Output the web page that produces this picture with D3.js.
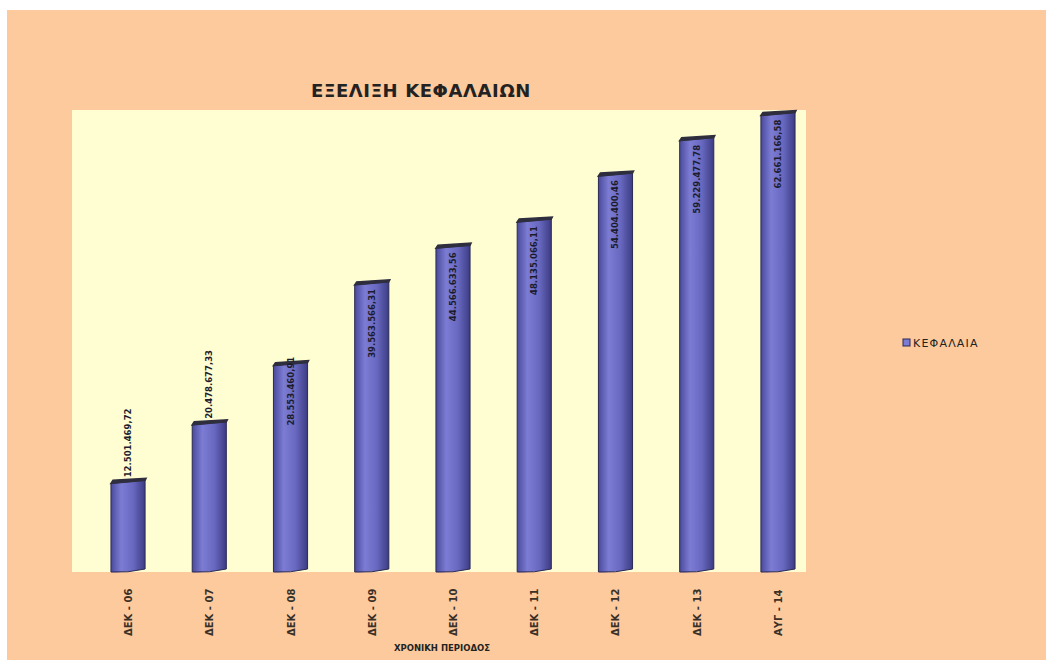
<!DOCTYPE html>
<html>
<head>
<meta charset="utf-8">
<script src="https://cdn.jsdelivr.net/npm/d3@7"></script>
<style>
  body { margin: 0; background: #fff; }
  svg { display: block; font-family: "DejaVu Sans", sans-serif; }
</style>
</head>
<body>
<svg width="1046" height="660"></svg>
<script>
// data
const periods = ['ΔΕΚ - 06', 'ΔΕΚ - 07', 'ΔΕΚ - 08', 'ΔΕΚ - 09', 'ΔΕΚ - 10', 'ΔΕΚ - 11', 'ΔΕΚ - 12', 'ΔΕΚ - 13', 'ΑΥΓ - 14'];
const capital = [12501469.72, 20478677.33, 28553460.91, 39563566.31, 44566633.56, 48135066.11, 54404400.46, 59229477.78, 62661166.58];
const seriesName = 'ΚΕΦΑΛΑΙΑ';

const fmt = v => {
    const [i, d] = v.toFixed(2).split('.');
    return i.replace(/\B(?=(\d{3})+(?!\d))/g, '.') + ',' + d;
};

const svg = d3.select('svg');

// page background
svg.append('rect')
    .attr('x', 7).attr('y', 10)
    .attr('width', 1046).attr('height', 660)
    .attr('fill', '#fcca9c');

const plot = { left: 72, right: 806, top: 110, bottom: 572 };

const defs = svg.append('defs');
const grad = defs.append('linearGradient').attr('id', 'barGrad')
    .attr('x1', '0').attr('x2', '1').attr('y1', '0').attr('y2', '0');
grad.append('stop').attr('offset', '0%').attr('stop-color', '#4a4a9c');
grad.append('stop').attr('offset', '30%').attr('stop-color', '#7c7cd4');
grad.append('stop').attr('offset', '65%').attr('stop-color', '#6868c0');
grad.append('stop').attr('offset', '100%').attr('stop-color', '#3c3c84');

svg.append('rect')
    .attr('x', plot.left).attr('y', plot.top)
    .attr('width', plot.right - plot.left).attr('height', plot.bottom - plot.top)
    .attr('fill', '#fffdd2');

const xScale = d3.scaleBand()
    .domain(periods)
    .range([87.4, 818.6])
    .paddingInner(0.58)
    .paddingOuter(0.29);

const yScale = d3.scaleLinear()
    .domain([0, 63000000])
    .range([plot.bottom, plot.top]);

const bars = svg.append('g').selectAll('g')
    .data(capital)
    .enter()
    .append('g');

const bw = xScale.bandwidth();

bars.append('path')
    .attr('d', (v, i) => {
        const x0 = xScale(periods[i]), x1 = x0 + bw;
        const yt = yScale(v), yb = plot.bottom;
        return `M${x0},${yt + 3} L${x1},${yt} L${x1},${yb - 3} Q${(x0 + x1) / 2},${yb + 1} ${x0},${yb} Z`;
    })
    .attr('fill', 'url(#barGrad)')
    .attr('stroke', '#2a2a55')
    .attr('stroke-width', 1);

// top cap
bars.append('path')
    .attr('d', (v, i) => {
        const x0 = xScale(periods[i]), x1 = x0 + bw;
        const yt = yScale(v);
        return `M${x0},${yt + 3} L${x0 + 2},${yt} L${x1 + 1},${yt - 2} L${x1},${yt} Z`;
    })
    .attr('fill', '#2e2e3e')
    .attr('stroke', '#2e2e3e')
    .attr('stroke-width', 1.5);

// value labels, rotated
bars.append('text')
    .attr('transform', (v, i) => {
        const cx = xScale(periods[i]) + bw / 2;
        const yt = yScale(v);
        const y = v < 25000000 ? yt - 3 : (v < 30000000 ? yt + 63 : yt + 76);
        return `translate(${cx + 3},${y}) rotate(-90)`;
    })
    .attr('font-size', 8.5)
    .attr('font-weight', 'bold')
    .attr('fill', '#1c1c2c')
    .text(v => fmt(v));

// x axis labels
const xAxis = svg.append('g')
    .attr('transform', `translate(0, ${plot.bottom})`)
    .call(d3.axisBottom(xScale).tickSize(0).tickPadding(0));
xAxis.select('.domain').remove();
xAxis.selectAll('text')
    .attr('transform', 'translate(4, 64) rotate(-90)')
    .attr('text-anchor', 'start')
    .attr('dy', 0)
    .attr('y', 0)
    .attr('font-size', 10)
    .attr('font-weight', 'bold')
    .attr('fill', '#3a3028')
    .attr('font-family', '"DejaVu Sans", sans-serif');

svg.append('text')
    .attr('x', 442).attr('y', 651)
    .attr('text-anchor', 'middle')
    .attr('font-size', 8.5)
    .attr('font-weight', 'bold')
    .attr('fill', '#222')
    .text('ΧΡΟΝΙΚΗ ΠΕΡΙΟΔΟΣ');

svg.append('text')
    .attr('x', 421).attr('y', 97)
    .attr('text-anchor', 'middle')
    .attr('font-size', 18)
    .attr('font-weight', 'bold')
    .attr('letter-spacing', 0.6)
    .attr('fill', '#222')
    .text('ΕΞΕΛΙΞΗ ΚΕΦΑΛΑΙΩΝ');

// legend
const legend = svg.append('g').attr('transform', 'translate(903, 343)');
legend.append('rect')
    .attr('x', 0).attr('y', -4).attr('width', 7).attr('height', 7)
    .attr('fill', '#7c7cd4').attr('stroke', '#2a2a55');
legend.append('text')
    .attr('x', 10).attr('y', 4)
    .attr('font-size', 11)
    .attr('letter-spacing', 1.2)
    .attr('fill', '#222')
    .text(seriesName);
</script>
</body>
</html>
